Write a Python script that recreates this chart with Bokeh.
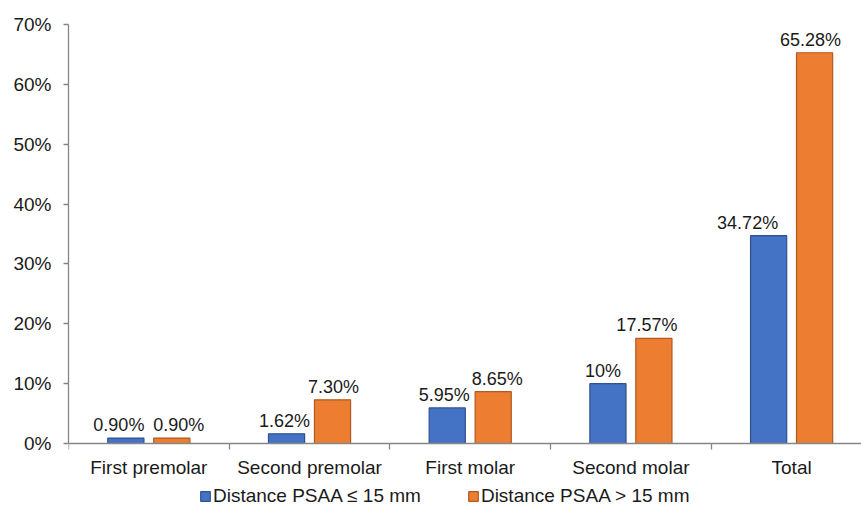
from bokeh.plotting import figure
from bokeh.models import ColumnDataSource, Range1d, FixedTicker, PrintfTickFormatter, Legend, LegendItem
from bokeh.core.properties import value
from bokeh.embed import file_html
from bokeh.resources import INLINE

categories = ["First premolar", "Second premolar", "First molar", "Second molar", "Total"]
near_vals = [0.90, 1.62, 5.95, 10, 34.72]
far_vals = [0.90, 7.30, 8.65, 17.57, 65.28]
near_labels = ["0.90%", "1.62%", "5.95%", "10%", "34.72%"]
far_labels = ["0.90%", "7.30%", "8.65%", "17.57%", "65.28%"]
series_names = ["Distance PSAA \u2264 15 mm", "Distance PSAA > 15 mm"]
y_ticks = [0, 10, 20, 30, 40, 50, 60, 70]

FONT = "Liberation Sans"
BLUE, BLUE_LINE = "#4472C4", "#2F528F"
ORANGE, ORANGE_LINE = "#ED7D31", "#AE5A21"

centers = [i + 0.5 for i in range(len(categories))]
off = 0.143
bw = 0.225
# label nudges (screen px) as placed in the original
near_nudge = [-7, -2, -3, -5, -21]
far_nudge = [7, 1, 4, -7, -4]

src_near = ColumnDataSource(dict(x=[c - off for c in centers], top=near_vals, lab=near_labels, dx=near_nudge))
src_far = ColumnDataSource(dict(x=[c + off for c in centers], top=far_vals, lab=far_labels, dx=far_nudge))

# frame reaches the bottom of the page; the x axis sits at y=0 and the legend below it
y_bottom = -64 * 70 / 419
p = figure(frame_width=793, frame_height=483, output_backend="svg", toolbar_location=None,
           x_range=Range1d(0, 4.935), y_range=Range1d(y_bottom, 70),
           min_border_left=68, min_border_right=0, min_border_top=24, min_border_bottom=0)
p.outline_line_color = None
p.xgrid.grid_line_color = None
p.ygrid.grid_line_color = None
p.background_fill_color = "white"

r1 = p.vbar(x="x", top="top", bottom=0, width=bw, source=src_near, fill_color=BLUE, line_color=BLUE_LINE, line_width=1.2)
r2 = p.vbar(x="x", top="top", bottom=0, width=bw, source=src_far, fill_color=ORANGE, line_color=ORANGE_LINE, line_width=1.2)

for src in (src_near, src_far):
    p.text(x="x", y="top", text="lab", source=src, x_offset="dx", y_offset=-13,
           text_align="center", text_baseline="alphabetic",
           text_font=value(FONT), text_font_size="18px", text_color="#1a1a1a")

AX = "#868686"
xa = p.xaxis[0]
xa.fixed_location = 0
xa.ticker = FixedTicker(ticks=centers, minor_ticks=list(range(len(categories) + 1)))
xa.major_label_overrides = {c: name for c, name in zip(centers, categories)}
xa.major_tick_line_color = None
xa.major_tick_out = 0
xa.major_tick_in = 0
xa.minor_tick_line_color = AX
xa.minor_tick_out = 6
xa.minor_tick_in = 0
xa.axis_line_color = AX
xa.axis_line_width = 1.3
xa.minor_tick_line_width = 1.3
xa.major_label_standoff = 7
xa.major_label_text_font = FONT
xa.major_label_text_font_size = "19px"
xa.major_label_text_color = "#1a1a1a"

ya = p.yaxis[0]
ya.bounds = (0, 70)
ya.ticker = FixedTicker(ticks=y_ticks)
ya.formatter = PrintfTickFormatter(format="%d%%")
ya.minor_tick_line_color = None
ya.major_tick_line_color = AX
ya.major_tick_out = 5
ya.major_tick_in = 0
ya.axis_line_color = AX
ya.axis_line_width = 1.3
ya.major_tick_line_width = 1.3
ya.major_label_standoff = 12
ya.major_label_text_font = FONT
ya.major_label_text_font_size = "19px"
ya.major_label_text_color = "#1a1a1a"

legend = Legend(items=[LegendItem(label=series_names[0], renderers=[r1]),
                       LegendItem(label=series_names[1], renderers=[r2])],
                location=(131, 0), orientation="horizontal",
                border_line_color=None, background_fill_alpha=0,
                padding=0, margin=0, spacing=46, label_standoff=2,
                glyph_width=12, glyph_height=12, label_height=20,
                label_text_font=FONT, label_text_font_size="19px", label_text_color="#1a1a1a")
p.add_layout(legend, "center")

open("out.html", "w").write(file_html(p, INLINE))
